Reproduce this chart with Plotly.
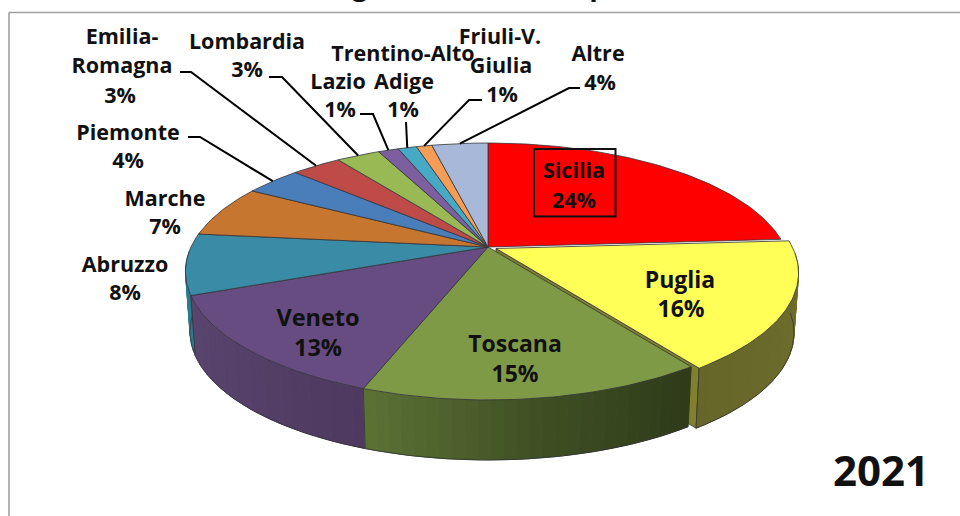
import math
import plotly.graph_objects as go

# ---- data ----
categories = ["Sicilia", "Puglia", "Toscana", "Veneto", "Abruzzo", "Marche", "Piemonte",
              "Emilia-Romagna", "Lombardia", "Lazio", "Trentino-Alto Adige", "Friuli-V. Giulia", "Altre"]
values = [24, 16.2, 15.4, 13.45, 7.65, 6.55, 3.65, 3.2, 2.8, 1.3, 1.2, 1.0, 3.6]
year_label = "2021"
cut_title_letters = ["g", "p"]

# ---- styles ----
top_colors = ["#FF0000", "#FFFF57", "#7F9A46", "#664C80", "#3A8BA5", "#C7762F", "#4A7EBB",
              "#BE4B48", "#98B954", "#7D5FA0", "#46AAC5", "#F59D56", "#A7B8D8"]
side_colors = {"Puglia": ["#6F6F2C", "#66662A"],
               "Toscana": ["#2E3A19", "#3F5024", "#5C7235"],
               "Veneto": ["#4E3A60", "#5A4570"],
               "Abruzzo": ["#2A7D90", "#2A7D90"]}
FONT = "Open Sans"
OUTER_SIZE = 21.5
INNER_SIZE = {"Sicilia": 21.5, "Puglia": 23, "Toscana": 23, "Veneto": 23.5}
EDGE = "#33333A"
TEXT_DY = 2.5

# ---- label layout: (line text, x, y) in page pixels, by category ----
label_lines = {
    "Sicilia": [("Sicilia", 574, 170)],
    "Puglia": [("Puglia", 680, 280)],
    "Toscana": [("Toscana", 515, 344)],
    "Veneto": [("Veneto", 318, 318)],
    "Abruzzo": [("Abruzzo", 125, 264)],
    "Marche": [("Marche", 165, 198)],
    "Piemonte": [("Piemonte", 128, 132)],
    "Emilia-Romagna": [("Emilia-", 122, 36), ("Romagna", 122, 65)],
    "Lombardia": [("Lombardia", 247, 41)],
    "Lazio": [("Lazio", 338, 81)],
    "Trentino-Alto Adige": [("Trentino-Alto", 403, 53), ("Adige", 404, 81)],
    "Friuli-V. Giulia": [("Friuli-V.", 500, 36), ("Giulia", 501, 65)],
    "Altre": [("Altre", 598, 53)],
}
pct_pos = {"Sicilia": (574, 200), "Puglia": (681, 309), "Toscana": (515, 374), "Veneto": (318, 348),
           "Abruzzo": (125, 292), "Marche": (165, 226), "Piemonte": (128, 160), "Emilia-Romagna": (120, 95),
           "Lombardia": (247, 69), "Lazio": (340, 109), "Trentino-Alto Adige": (403, 109),
           "Friuli-V. Giulia": (502, 94), "Altre": (600, 82)}
# leader lines: label end, elbow
leaders = {"Piemonte": [(188, 137), (200, 137)], "Emilia-Romagna": [(180, 72), (191, 72)],
           "Lombardia": [(269, 77), (282, 77)], "Lazio": [(360, 114), (373, 114)],
           "Trentino-Alto Adige": [(406, 122)], "Friuli-V. Giulia": [(482, 100), (469, 100)],
           "Altre": [(580, 88), (569, 88)]}

# ---- projection of the tilted disc ----
HX, HY, AX, BY, K = 488.0, 247.0, 297.0, 123.8, 0.1906
DEPTH, BASE_SCALE = 60.0, 0.985
EXPLODE = {"Puglia": (8.0, 1.5)}


def rim(deg, off=(0, 0), base=False):
    t = math.radians(deg)
    X, Y = math.sin(t), math.cos(t)
    d = 1 + K * Y
    a = AX * (BASE_SCALE if base else 1)
    return (HX + off[0] + a * X / d, HY + off[1] + (DEPTH if base else 0) - BY * Y / d)


def arc(a0, a1, off=(0, 0), base=False):
    n = max(2, int(abs(a1 - a0) / 1.0) + 1)
    return [rim(a0 + (a1 - a0) * i / (n - 1), off, base) for i in range(n)]


def hexmix(c0, c1, f):
    p = [int(c0[i:i + 2], 16) for i in (1, 3, 5)]
    q = [int(c1[i:i + 2], 16) for i in (1, 3, 5)]
    return "#%02x%02x%02x" % tuple(round(p[i] + (q[i] - p[i]) * f) for i in range(3))


def ramp(stops, f):
    s = f * (len(stops) - 1)
    i = min(int(s), len(stops) - 2)
    return hexmix(stops[i], stops[i + 1], s - i)


fig = go.Figure()


def poly(pts, fill, line=None, width=0.8):
    xs = [p[0] for p in pts] + [pts[0][0]]
    ys = [p[1] for p in pts] + [pts[0][1]]
    fig.add_trace(go.Scatter(x=xs, y=ys, mode="lines", fill="toself", fillcolor=fill,
                             line=dict(color=line or fill, width=width), hoverinfo="skip", showlegend=False))


def path(pts, color, width):
    fig.add_trace(go.Scatter(x=[p[0] for p in pts], y=[p[1] for p in pts], mode="lines",
                             line=dict(color=color, width=width), hoverinfo="skip", showlegend=False))


total = sum(values)
angles = {}
acc = 0.0
for name, v in zip(categories, values):
    angles[name] = (acc / total * 360, (acc + v) / total * 360)
    acc += v

# sides, exploded slice first
for name in ["Puglia", "Abruzzo", "Veneto", "Toscana"]:
    a0, a1 = angles[name]
    off = EXPLODE.get(name, (0, 0))
    a0v, a1v = max(a0, 92), min(a1, 268)
    steps = max(1, int((a1v - a0v) / 2))
    if name == "Puglia":
        e = rim(a1, off)
        b = rim(a1, off, True)
        hub_t = (HX + off[0], HY + off[1])
        hub_b = (HX + off[0], HY + off[1] + DEPTH)
        poly([hub_t, e, b, hub_b], "#80802F", EDGE)
    for i in range(steps):
        s0 = a0v + (a1v - a0v) * i / steps
        s1 = a0v + (a1v - a0v) * (i + 1) / steps
        poly(arc(s0, s1, off) + arc(s1, s0, off, True), ramp(side_colors[name], (i + .5) / steps), None, 1)
    path(arc(a0v, a1v, off, True), EDGE, 0.8)
    path([rim(a1, off), rim(a1, off, True)], EDGE, 0.8)

# top faces
for name, col in zip(categories, top_colors):
    a0, a1 = angles[name]
    off = EXPLODE.get(name, (0, 0))
    poly([(HX + off[0], HY + off[1])] + arc(a0, a1, off), col, EDGE, 0.8)

# leader lines, ending on each slice's rim
for name, pts in leaders.items():
    a0, a1 = angles[name]
    path(pts + [rim((a0 + a1) / 2)], "#000000", 2)


def text_trace(xs, ys, texts, size):
    fig.add_trace(go.Scatter(x=xs, y=[y + TEXT_DY for y in ys], text=texts, mode="text",
                             textposition="middle center",
                             textfont=dict(family=FONT, size=size, color="#111111", weight=700),
                             hoverinfo="skip", showlegend=False))


for name, v in zip(categories, values):
    size = INNER_SIZE.get(name, OUTER_SIZE)
    lines = list(label_lines[name]) + [(f"{round(v)}%",) + pct_pos[name]]
    text_trace([l[1] for l in lines], [l[2] for l in lines], [l[0] for l in lines], size)
text_trace([881], [473], [year_label], 42)
# descenders of the title that the picture cuts off at its top edge
text_trace([360, 598], [-15, -15], cut_title_letters, 28)

fig.update_layout(
    width=960, height=516, margin=dict(l=0, r=0, t=0, b=0), paper_bgcolor="white", plot_bgcolor="white",
    xaxis=dict(range=[0, 960], visible=False, fixedrange=True),
    yaxis=dict(range=[516, 0], visible=False, fixedrange=True),
    shapes=[
        dict(type="line", xref="x", yref="y", x0=9, y0=12.5, x1=960, y1=12.5, line=dict(color="#A0A0A0", width=1.6)),
        dict(type="line", xref="x", yref="y", x0=9, y0=12.5, x1=9, y1=516, line=dict(color="#A0A0A0", width=1.6)),
        dict(type="rect", xref="x", yref="y", x0=534, y0=149, x1=615.5, y1=216.5, line=dict(color="#111111", width=2)),
    ],
)
fig.write_html("out.html", config={"displayModeBar": False},
               post_script="document.body.style.margin='0';document.body.style.overflow='hidden';")
